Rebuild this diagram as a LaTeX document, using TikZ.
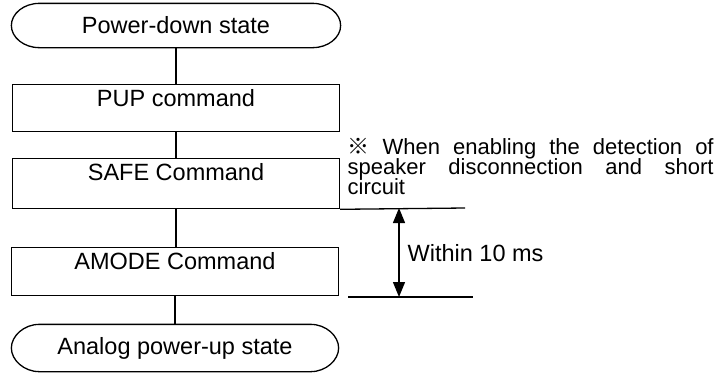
\documentclass[tikz,border=0pt]{standalone}
\usepackage{fontspec}
\setmainfont{Liberation Sans}
\newfontfamily\cjk{Noto Sans CJK JP}
\usetikzlibrary{calc,arrows.meta}
\begin{document}
\begin{tikzpicture}[x=1pt,y=-1pt,line width=1.3pt,
  base/.style={font=\fontsize{23.5}{23.5}\selectfont},
  term/.style={base,draw=none,minimum width=#1,minimum height=43pt,inner sep=0pt},
  cmdbox/.style={base,draw,rectangle,inner xsep=0pt,inner ysep=0pt,minimum width=327pt,text height=22pt},
]
\useasboundingbox (0,0) rectangle (728,373);
% nodes
\node[term=328pt] (t1) at (176,25.5) {Power-down state};
\node[cmdbox,text depth=25pt,anchor=north] (pup) at (176,84) {PUP command};
\node[cmdbox,text depth=28pt,anchor=north] (safe) at (176,158) {SAFE Command};
\node[cmdbox,text depth=26pt,anchor=north] (amode) at (175,247) {AMODE Command};
\node[term=326pt,minimum height=46pt] (t2) at (175,348) {Analog power-up state};
% terminal outlines
\foreach \n in {t1,t2} {
  \draw ($(\n.north west)+(28,0)$) -- ($(\n.north east)+(-28,0)$)
    .. controls ($(\n.north east)+(-12.5,0)$) and ($(\n.east)+(0,-12)$) .. (\n.east)
    .. controls ($(\n.east)+(0,12)$) and ($(\n.south east)+(-12.5,0)$) .. ($(\n.south east)+(-28,0)$)
    -- ($(\n.south west)+(28,0)$)
    .. controls ($(\n.south west)+(12.5,0)$) and ($(\n.west)+(0,12)$) .. (\n.west)
    .. controls ($(\n.west)+(0,-12)$) and ($(\n.north west)+(12.5,0)$) .. cycle;
}
% connectors
\draw (t1.south) -- (t1.south |- pup.north);
\draw (pup.south) -- (pup.south |- safe.north);
\draw (safe.south) -- (safe.south |- amode.north);
\draw (t2.north |- amode.south) -- (t2.north);
% timing lines
\coordinate (l1b) at (465,208);
\coordinate (l2a) at (348,297);
\coordinate (l2b) at (473,297);
\coordinate (a1) at (399,208);
\coordinate (a2) at (399,297);
\draw (safe.south east) -- (l1b);
\draw (l2a) -- (l2b);
\draw[{Triangle[length=15pt,width=12pt]}-{Triangle[length=15pt,width=12pt]}] (a1) -- (a2);
\node[base,anchor=west,inner sep=0pt] (within) at (407,253) {Within 10 ms};
\node[anchor=north west,inner sep=0pt,text width=366pt,align=justify,
  font=\fontsize{22}{20}\selectfont] (note) at (347,138)
  {\hyphenpenalty10000 \exhyphenpenalty10000 \lineskiplimit-20pt \tolerance10000
   {\cjk ※} When enabling the detection of\linebreak
   speaker disconnection and short\linebreak
   circuit\par};
\end{tikzpicture}
\end{document}
